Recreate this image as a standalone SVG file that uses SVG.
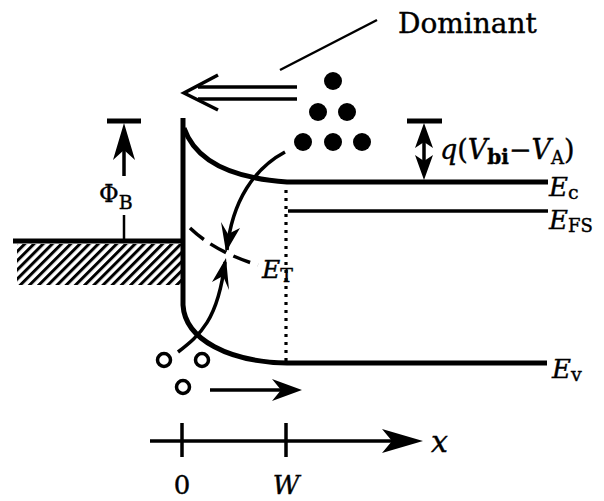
<svg xmlns="http://www.w3.org/2000/svg" width="604" height="501" viewBox="0 0 604 501">
<style>
.t{font-family:"DejaVu Serif","Liberation Serif",serif;fill:#000;stroke:#000;stroke-width:0.4}
.i{font-style:italic}
.thick{fill:none;stroke:#000;stroke-width:5}
.med{fill:none;stroke:#000;stroke-width:3.5}
.thin{fill:none;stroke:#000;stroke-width:2.5}
.head{fill:#000;stroke:none}
.dot{fill:#000}
.hole{fill:none;stroke:#000;stroke-width:3.5}
</style>
<defs>
<pattern id="hatch" patternUnits="userSpaceOnUse" width="6.5" height="6.5" patternTransform="rotate(45)">
<line x1="1.5" y1="0" x2="1.5" y2="6.5" stroke="#000" stroke-width="3"/>
</pattern>
</defs>
<rect width="604" height="501" fill="#fff"/>

<g id="metal">
<rect x="17" y="244" width="164" height="41" fill="url(#hatch)"/>
<line x1="13" y1="241" x2="183" y2="241" class="thick"/>
<line x1="124" y1="215" x2="124" y2="241" class="thin"/>
</g>

<g id="bands">
<path d="M183,118 L183,305 C185,340 230,362 287,363 L547,363" class="thick"/>
<path d="M184,128 C195,160 230,178 287,182 L548,182" class="thick"/>
<line x1="288" y1="211" x2="548" y2="211" class="med"/>
<line x1="286" y1="190" x2="286" y2="361" stroke="#000" stroke-width="3.2" stroke-dasharray="3,5" fill="none"/>
<path d="M190,228 Q215,252 258,265" fill="none" stroke="#000" stroke-width="3.5" stroke-dasharray="18,8"/>
</g>

<g id="labels">
<text class="t" x="398" y="33" font-size="28">Dominant</text>
<text class="t" x="440" y="159" font-size="27"><tspan class="i">q</tspan>(<tspan class="i">V</tspan><tspan font-size="20" dy="5" font-weight="bold">bi</tspan><tspan dy="-5">−</tspan><tspan class="i">V</tspan><tspan font-size="18" dy="5">A</tspan><tspan dy="-5">)</tspan></text>
<text class="t" x="549" y="196" font-size="26"><tspan class="i">E</tspan><tspan font-size="19" dy="3">c</tspan></text>
<text class="t" x="549" y="229" font-size="26"><tspan class="i">E</tspan><tspan font-size="18" dy="3">FS</tspan></text>
<text class="t" x="552" y="378" font-size="26"><tspan class="i">E</tspan><tspan font-size="19" dy="3">v</tspan></text>
<text class="t" x="262" y="278" font-size="25"><tspan class="i">E</tspan><tspan font-size="19" dy="4">T</tspan></text>
<text class="t" x="99" y="202" font-size="24">Φ<tspan font-size="19" dy="7">B</tspan></text>
<text class="t" x="182" y="494" font-size="26" text-anchor="middle">0</text>
<text class="t i" x="286" y="494" font-size="26" text-anchor="middle">W</text>
<text class="t i" x="431" y="452" font-size="30">x</text>
</g>

<g id="electrons">
<circle class="dot" cx="333" cy="81" r="9"/>
<circle class="dot" cx="318" cy="112" r="9"/>
<circle class="dot" cx="347" cy="112" r="9"/>
<circle class="dot" cx="303" cy="142" r="9"/>
<circle class="dot" cx="333" cy="142" r="9"/>
<circle class="dot" cx="362" cy="142" r="9"/>
</g>

<g id="holes">
<circle class="hole" cx="164" cy="360" r="6.5"/>
<circle class="hole" cx="202" cy="360" r="6.5"/>
<circle class="hole" cx="183" cy="387" r="6.5"/>
</g>

<g id="connectors">
<line x1="377" y1="20" x2="280" y2="70" class="thin"/>
<line x1="198" y1="87" x2="297" y2="87" class="med"/>
<line x1="198" y1="99" x2="297" y2="99" class="med"/>
<polyline points="218,75 184,93 218,110" class="med"/>

<line x1="107" y1="121" x2="141" y2="121" class="thick"/>
<line x1="124" y1="140" x2="124" y2="176" class="med"/>
<polygon class="head" points="124,123 135,160 124,150 113,160"/>

<line x1="407" y1="121" x2="442" y2="121" class="thick"/>
<line x1="424" y1="130" x2="424" y2="172" class="med"/>
<polygon class="head" points="424,123 433,148 424,142 415,148"/>
<polygon class="head" points="424,180 433,155 424,161 415,155"/>

<path d="M285,152 C255,168 232,200 227,250" class="med"/>
<polygon class="head" points="226,252 221,222 228,234 240,228"/>
<path d="M178,352 C200,335 218,320 225,262" class="med"/>
<polygon class="head" points="226,258 229,290 223,276 212,282"/>

<line x1="210" y1="390" x2="292" y2="390" class="med"/>
<polygon class="head" points="302,390 272,379 281,390 272,401"/>

<line x1="150" y1="441" x2="410" y2="441" class="med"/>
<polygon class="head" points="423,441 382,429 392,441 382,453"/>
<line x1="182" y1="423" x2="182" y2="457" class="med"/>
<line x1="286" y1="423" x2="286" y2="457" class="med"/>
</g>
</svg>
